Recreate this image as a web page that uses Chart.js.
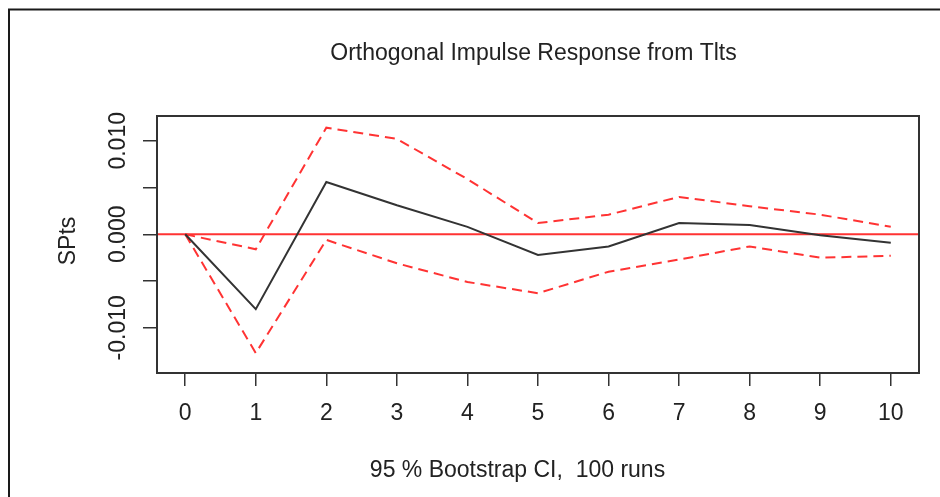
<!DOCTYPE html>
<html><head><meta charset="utf-8">
<script src="https://cdn.jsdelivr.net/npm/chart.js@4/dist/chart.umd.min.js"></script>
<style>html,body{margin:0;padding:0;background:#fff;overflow:hidden}#wrap{width:940px;height:497px;position:relative}</style>
</head><body><div id="wrap"><canvas id="c" width="940" height="497"></canvas></div>
<script>
// ---- data ----
const steps = [0, 1, 2, 3, 4, 5, 6, 7, 8, 9, 10];
const response = [0, -0.0080, 0.0056, 0.0031, 0.0008, -0.0022, -0.0013, 0.0012, 0.0010, -0.0001, -0.0009];
const upperCI  = [0, -0.0016, 0.0114, 0.0102, 0.0059, 0.0012, 0.0021, 0.0040, 0.0030, 0.0021, 0.0008];
const lowerCI  = [0, -0.0127, -0.0006, -0.0031, -0.0051, -0.0063, -0.0040, -0.0027, -0.0013, -0.0025, -0.0023];
const xTickValues = [0, 1, 2, 3, 4, 5, 6, 7, 8, 9, 10];
const xTickLabels = ['0', '1', '2', '3', '4', '5', '6', '7', '8', '9', '10'];
const yTickValues = [-0.010, -0.005, 0, 0.005, 0.010];
const yLabelValues = [-0.010, 0, 0.010];
const yLabelText = ['-0.010', '0.000', '0.010'];
const titleText = 'Orthogonal Impulse Response from Tlts';
const yAxisTitle = 'SPts';
const footerText = '95 % Bootstrap CI,  100 runs';

// ---- styles ----
const FONT = '"Liberation Sans", Arial, sans-serif';
const TEXT = '#222222';
const AXIS = '#333333';
const RED = '#ff3333';

const toXY = arr => steps.map((s, i) => ({ x: s, y: arr[i] }));

const decor = {
  id: 'decor',
  beforeDatasetsDraw(chart) {
    const { ctx, chartArea: a, scales: { y } } = chart;
    const y0 = y.getPixelForValue(0);
    ctx.save();
    ctx.strokeStyle = RED;
    ctx.lineWidth = 2;
    ctx.beginPath();
    ctx.moveTo(a.left, y0);
    ctx.lineTo(a.right, y0);
    ctx.stroke();
    ctx.restore();
  },
  afterDraw(chart) {
    const { ctx, chartArea: a, scales: { y } } = chart;
    ctx.save();
    // plot box
    ctx.strokeStyle = AXIS;
    ctx.lineWidth = 2;
    ctx.strokeRect(a.left, a.top, a.right - a.left, a.bottom - a.top);
    // outer frame (top + left)
    ctx.strokeStyle = '#1a1a1a';
    ctx.lineWidth = 2;
    ctx.beginPath();
    ctx.moveTo(9, 497); ctx.lineTo(9, 9.5); ctx.lineTo(940, 9.5);
    ctx.stroke();
    // texts
    ctx.fillStyle = TEXT;
    ctx.font = '23px ' + FONT;
    ctx.textBaseline = 'alphabetic';
    ctx.textAlign = 'center';
    ctx.fillText(titleText, 533.5, 59.5);
    ctx.fillText(footerText, 517.5, 477);
    // y tick labels, rotated
    yLabelValues.forEach((v, i) => {
      ctx.save();
      ctx.translate(125, y.getPixelForValue(v));
      ctx.rotate(-Math.PI / 2);
      ctx.fillText(yLabelText[i], 0, 0);
      ctx.restore();
    });
    ctx.save();
    ctx.translate(75, 241);
    ctx.rotate(-Math.PI / 2);
    ctx.fillText(yAxisTitle, 0, 0);
    ctx.restore();
    ctx.restore();
  }
};

new Chart(document.getElementById('c'), {
  type: 'line',
  data: {
    datasets: [
      { data: toXY(response), borderColor: '#333333', borderWidth: 2, pointRadius: 0, tension: 0, fill: false },
      { data: toXY(upperCI), borderColor: RED, borderWidth: 2, borderDash: [10, 6], pointRadius: 0, tension: 0, fill: false },
      { data: toXY(lowerCI), borderColor: RED, borderWidth: 2, borderDash: [10, 6], pointRadius: 0, tension: 0, fill: false }
    ]
  },
  options: {
    responsive: false,
    animation: false,
    devicePixelRatio: 1,
    layout: { padding: { top: 116, right: 21, left: 0, bottom: 0 } },
    plugins: { legend: { display: false }, tooltip: { enabled: false }, title: { display: false } },
    scales: {
      x: {
        type: 'linear', min: -0.4, max: 10.4,
        afterBuildTicks: s => { s.ticks = xTickValues.map(v => ({ value: v })); },
        afterFit: s => { s.height = 124; },
        border: { display: false },
        grid: { drawOnChartArea: false, drawTicks: true, tickLength: 13, color: AXIS, lineWidth: 1.5 },
        ticks: {
          padding: 14, color: TEXT, font: { family: FONT, size: 23 }, maxRotation: 0, autoSkip: false,
          callback: v => xTickLabels[xTickValues.indexOf(v)]
        }
      },
      y: {
        type: 'linear', min: -0.01483, max: 0.01265,
        afterBuildTicks: s => { s.ticks = yTickValues.map(v => ({ value: v })); },
        afterFit: s => { s.width = 157; },
        border: { display: false },
        grid: { drawOnChartArea: false, drawTicks: true, tickLength: 14, color: AXIS, lineWidth: 1.5 },
        ticks: { display: false }
      }
    }
  },
  plugins: [decor]
});
</script>
</body></html>
